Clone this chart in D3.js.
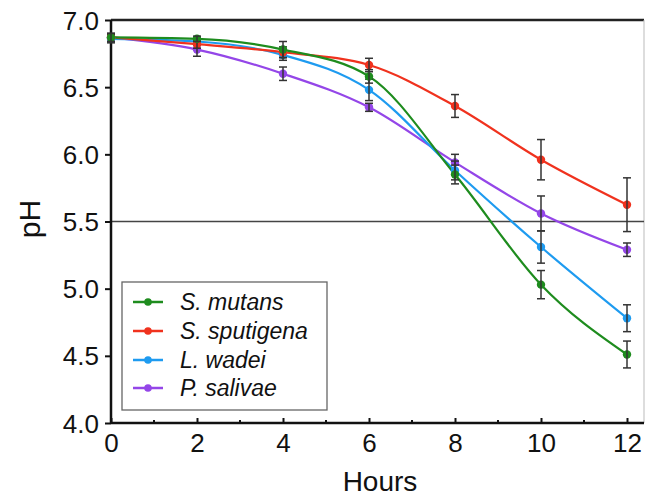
<!DOCTYPE html>
<html><head><meta charset="utf-8">
<script src="https://cdn.jsdelivr.net/npm/d3@7"></script>
<style>body{margin:0;background:#fff}svg{display:block}text{font-family:"Liberation Sans",Arial,sans-serif}</style>
</head><body><svg id="c" width="646" height="497"></svg>
<script>
const hours = [0, 2, 4, 6, 8, 10, 12];
const seriesNames = ["S. mutans", "S. sputigena", "L. wadei", "P. salivae"];
const colors = ["#1e8c1e", "#f0321e", "#1e9bf0", "#9446e8"];
const mutans = [6.87, 6.86, 6.78, 6.58, 5.85, 5.03, 4.51];
const mutansErr = [0.03, 0.02, 0.06, 0.05, 0.07, 0.105, 0.1];
const sputigena = [6.87, 6.82, 6.76, 6.665, 6.36, 5.96, 5.625];
const sputigenaErr = [0.03, 0.03, 0.04, 0.05, 0.085, 0.15, 0.2];
const wadei = [6.86, 6.84, 6.74, 6.48, 5.88, 5.31, 4.78];
const wadeiErr = [0.03, 0.03, 0.04, 0.08, 0.07, 0.12, 0.1];
const salivae = [6.87, 6.78, 6.60, 6.35, 5.94, 5.56, 5.29];
const salivaeErr = [0.03, 0.05, 0.05, 0.03, 0.06, 0.13, 0.05];
const yTicks = [4.0, 4.5, 5.0, 5.5, 6.0, 6.5, 7.0];
const xTicks = [0, 2, 4, 6, 8, 10, 12];
const xMinor = [1, 3, 5, 7, 9, 11];
const refLine = 5.5;

const values = [mutans, sputigena, wadei, salivae];
const errs = [mutansErr, sputigenaErr, wadeiErr, salivaeErr];

const svg = d3.select("#c");
const x = d3.scaleLinear().domain([0, 12]).range([111, 627]);
const y = d3.scaleLinear().domain([4, 7]).range([423, 20]);
const right = 644;

// frame lines
svg.append("line").attr("x1", 111).attr("x2", right).attr("y1", y(7)).attr("y2", y(7)).attr("stroke", "#222").attr("stroke-width", 2.5);
svg.append("line").attr("x1", right).attr("x2", right).attr("y1", y(7)).attr("y2", y(4)).attr("stroke", "#bbb").attr("stroke-width", 1);
svg.append("line").attr("x1", 111).attr("x2", right).attr("y1", y(refLine)).attr("y2", y(refLine)).attr("stroke", "#444").attr("stroke-width", 1.3);

// y axis
const yAxis = d3.axisLeft(y).tickValues(yTicks).tickFormat(d3.format(".1f")).tickSize(6).tickPadding(6);
const gy = svg.append("g").attr("transform", "translate(111,0)").call(yAxis);
gy.select(".domain").attr("stroke", "#111").attr("stroke-width", 2.5).attr("d", `M0,${y(7)}V${y(4)}`);
gy.selectAll(".tick line").attr("stroke", "#111").attr("stroke-width", 2);
gy.selectAll(".tick text").attr("font-size", 26).attr("fill", "#111").attr("dy", "0.35em").style("font-family", "Liberation Sans, Arial, sans-serif");

// x axis
const xAxis = d3.axisBottom(x).tickValues(xTicks).tickFormat(d3.format("d")).tickSize(-5).tickPadding(11);
const gx = svg.append("g").attr("transform", `translate(0,${y(4)})`).call(xAxis);
gx.select(".domain").attr("stroke", "#111").attr("stroke-width", 2.5).attr("d", `M111,0H${right}`);
gx.selectAll(".tick line").attr("stroke", "#111").attr("stroke-width", 2);
gx.selectAll(".tick text").attr("font-size", 26).attr("fill", "#111").style("font-family", "Liberation Sans, Arial, sans-serif");
gx.selectAll(".minor").data(xMinor).enter().append("line").attr("x1", d => x(d)).attr("x2", d => x(d)).attr("y1", 0).attr("y2", -3).attr("stroke", "#111").attr("stroke-width", 2);

// axis titles
svg.append("text").attr("x", 380).attr("y", 491).attr("text-anchor", "middle").attr("font-size", 28).attr("fill", "#111").text("Hours");
svg.append("text").attr("transform", "translate(40,219) rotate(-90)").attr("text-anchor", "middle").attr("font-size", 30).attr("fill", "#111").text("pH");

// series
const line = d3.line().x((d, i) => x(hours[i])).y(d => y(d)).curve(d3.curveMonotoneX);
const order = [3, 2, 1, 0];
order.forEach(si => {
  const g = svg.append("g");
  g.append("path").datum(values[si]).attr("d", line).attr("fill", "none").attr("stroke", colors[si]).attr("stroke-width", 2.2);
});
order.forEach(si => {
  const g = svg.append("g");
  const pts = values[si].map((v, i) => ({h: hours[i], v, e: errs[si][i]}));
  g.selectAll("circle").data(pts).enter().append("circle").attr("cx", d => x(d.h)).attr("cy", d => y(d.v)).attr("r", 4.2).attr("fill", colors[si]);
  const eb = g.selectAll(".eb").data(pts).enter().append("g");
  eb.append("line").attr("x1", d => x(d.h)).attr("x2", d => x(d.h)).attr("y1", d => y(d.v + d.e)).attr("y2", d => y(d.v - d.e)).attr("stroke", "#333").attr("stroke-width", 1.5);
  eb.append("line").attr("x1", d => x(d.h) - 4).attr("x2", d => x(d.h) + 4).attr("y1", d => y(d.v + d.e)).attr("y2", d => y(d.v + d.e)).attr("stroke", "#333").attr("stroke-width", 1.5);
  eb.append("line").attr("x1", d => x(d.h) - 4).attr("x2", d => x(d.h) + 4).attr("y1", d => y(d.v - d.e)).attr("y2", d => y(d.v - d.e)).attr("stroke", "#333").attr("stroke-width", 1.5);
});

// legend
const lg = svg.append("g");
lg.append("rect").attr("x", 122).attr("y", 282).attr("width", 205).attr("height", 128).attr("fill", "#fff").attr("stroke", "#666").attr("stroke-width", 1.3);
const rowY = [302, 331, 360, 388];
seriesNames.forEach((n, i) => {
  lg.append("line").attr("x1", 133).attr("x2", 163).attr("y1", rowY[i]).attr("y2", rowY[i]).attr("stroke", colors[i]).attr("stroke-width", 2.5);
  lg.append("circle").attr("cx", 148).attr("cy", rowY[i]).attr("r", 3.8).attr("fill", colors[i]);
  lg.append("text").attr("x", 180).attr("y", rowY[i]).attr("dy", "0.35em").attr("font-size", 23).attr("font-style", "italic").attr("fill", "#111").text(n);
});
</script></body></html>
